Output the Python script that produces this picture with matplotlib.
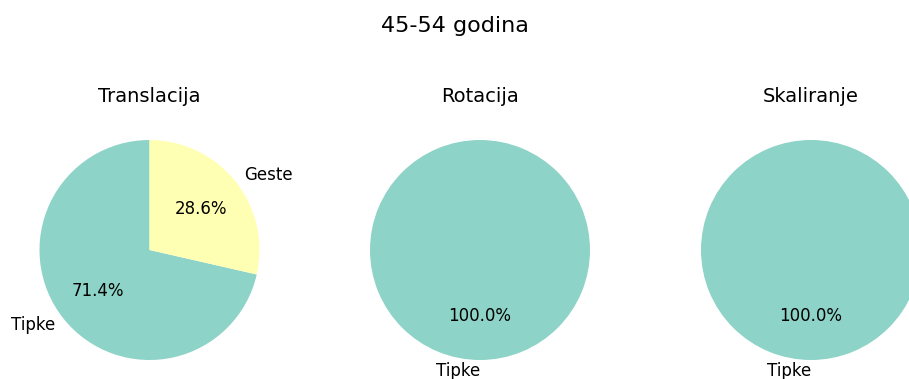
import matplotlib
matplotlib.use("Agg")
import matplotlib.pyplot as plt

# counts per method, per transformation (age group 45-54)
titles = ["Translacija", "Rotacija", "Skaliranje"]
labels_translacija = ["Tipke", "Geste"]
values_translacija = [5, 2]
labels_rotacija = ["Tipke"]
values_rotacija = [7]
labels_skaliranje = ["Tipke"]
values_skaliranje = [7]

TIPKE = "#8dd3c7"; GESTE = "#ffffb3"
colors = {"Tipke": TIPKE, "Geste": GESTE}

W, H = 909, 379
fig = plt.figure(figsize=(W / 100, H / 100), dpi=100)
plt.rcParams["font.size"] = 12

centers_x = [149.5, 480, 811]
cy = 129          # pie centre, px from bottom
box = 275         # axes side in px (pie radius = box / 2.5)

data = [(labels_translacija, values_translacija),
        (labels_rotacija, values_rotacija),
        (labels_skaliranje, values_skaliranje)]

for cx, title, (labs, vals) in zip(centers_x, titles, data):
    ax = fig.add_axes([(cx - box / 2) / W, (cy - box / 2) / H, box / W, box / H])
    wedges, texts, autotexts = ax.pie(vals, labels=labs, colors=[colors[l] for l in labs],
                                      autopct="%1.1f%%", startangle=90,
                                      textprops={"fontsize": 12})
    if len(vals) == 1:
        texts[0].set_ha("right")   # label sits straight below, hangs to the left
    ax.set_xlim(-1.25, 1.25); ax.set_ylim(-1.25, 1.25)
    ax.set_title(title, fontsize=14, pad=7.5)

fig.suptitle("45-54 godina", fontsize=16, y=1 - 16 / H, va="top")
fig.savefig("out.png", dpi=100)
